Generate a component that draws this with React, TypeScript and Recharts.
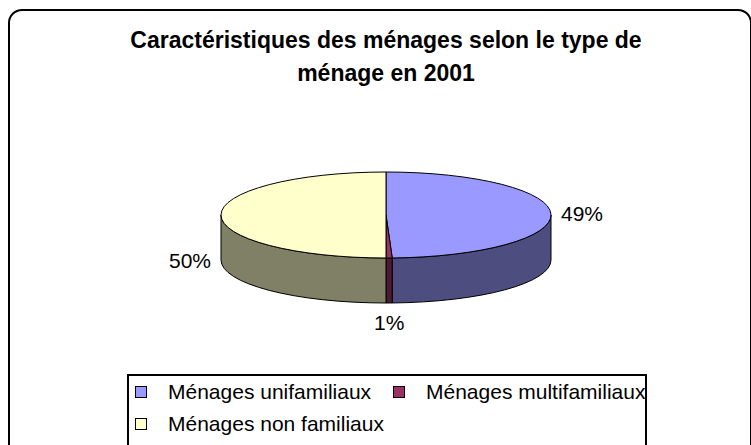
import React from "react";
import { Pie, PieChart, Cell, Legend } from "recharts";

const categories = [
  "Ménages unifamiliaux",
  "Ménages multifamiliaux",
  "Ménages non familiaux",
];
const shares = [49.4, 0.6, 50.0];

const TOP_COLORS = ["#9999FF", "#993366", "#FFFFCC"];
const SIDE_COLORS = ["#4D4D80", "#4D1A33", "#808066"];

const data = categories.map((name, i) => ({ name, value: shares[i] }));

const FONT = '"Liberation Sans", Arial, sans-serif';
const TILT = 43 / 165;
const DEPTH = 45;
const RAD = Math.PI / 180;

const pt = (cx: number, cy: number, rx: number, ry: number, a: number, dy = 0) =>
  `${cx + rx * Math.cos(a * RAD)},${cy - ry * Math.sin(a * RAD) + dy}`;

// elliptical slice with its front wall
const Slice3D = (props: any) => {
  const { cx, cy, outerRadius, startAngle, endAngle, name } = props;
  const idx = categories.indexOf(name);
  const rx = outerRadius;
  const ry = rx * TILT;
  const hi = Math.max(startAngle, endAngle);
  const lo = Math.min(startAngle, endAngle);
  const large = hi - lo > 180 ? 1 : 0;
  const top = `M${cx},${cy} L${pt(cx, cy, rx, ry, hi)} A${rx},${ry} 0 ${large} 1 ${pt(cx, cy, rx, ry, lo)} Z`;

  const sHi = Math.min(hi, 0);
  const sLo = Math.max(lo, -180);
  let side = null;
  if (sHi > sLo) {
    const d = `M${pt(cx, cy, rx, ry, sHi)} A${rx},${ry} 0 0 1 ${pt(cx, cy, rx, ry, sLo)} L${pt(cx, cy, rx, ry, sLo, DEPTH)} A${rx},${ry} 0 0 0 ${pt(cx, cy, rx, ry, sHi, DEPTH)} Z`;
    side = <path d={d} fill={SIDE_COLORS[idx]} stroke="#000" strokeWidth={1} />;
  }
  return (
    <g>
      {side}
      <path d={top} fill={TOP_COLORS[idx]} stroke="#000" strokeWidth={1} />
    </g>
  );
};

const renderLabel = (props: any) => {
  const { cx, cy, midAngle, outerRadius, percent } = props;
  const rx = outerRadius;
  const ry = rx * TILT;
  const c = Math.cos(midAngle * RAD);
  const s = Math.sin(midAngle * RAD);
  const x = cx + (rx + 10) * c;
  const off = s < 0.01 ? DEPTH * Math.max(-s, (1 - c) / 2) : 0;
  const y = cy - (ry + 20) * s + off;
  const anchor = c > 0.3 ? "start" : c < -0.3 ? "end" : "middle";
  return (
    <text x={x} y={y} textAnchor={anchor} dominantBaseline="central" fontFamily={FONT} fontSize={21} fill="#000">
      {`${Math.round(percent * 100)}%`}
    </text>
  );
};

const LegendBox = () => (
  <div
    style={{
      boxSizing: "border-box",
      width: 520,
      height: 80,
      border: "2px solid #000",
      paddingLeft: 6,
      display: "grid",
      gridTemplateColumns: "258px auto",
      gridAutoRows: "32px",
      fontFamily: FONT,
      fontSize: 21,
      background: "#fff",
    }}
  >
    {categories.map((name, i) => (
      <div key={name} style={{ display: "flex", alignItems: "center", whiteSpace: "nowrap", lineHeight: "32px" }}>
        <span
          style={{
            display: "inline-block",
            boxSizing: "border-box",
            width: 12,
            height: 12,
            border: "1px solid #000",
            background: TOP_COLORS[i],
            marginRight: 21,
          }}
        />
        <span>{name}</span>
      </div>
    ))}
  </div>
);

export default function App() {
  return (
    <div style={{ position: "fixed", left: 0, top: 0, width: 751, height: 445, overflow: "hidden", background: "#fff" }}>
      <div
        style={{
          position: "absolute",
          left: 8,
          top: 9,
          width: 744,
          height: 450,
          boxSizing: "border-box",
          border: "2px solid #000",
          borderRadius: 14,
        }}
      />
      <div
        style={{
          position: "absolute",
          left: 0,
          top: 24,
          width: 772,
          textAlign: "center",
          fontFamily: FONT,
          fontWeight: "bold",
          fontSize: 23,
          lineHeight: "33px",
        }}
      >
        Caractéristiques des ménages selon le type de
        <br />
        ménage en 2001
      </div>
      <div style={{ position: "absolute", left: 0, top: 0 }}>
        <PieChart width={751} height={445} margin={{ top: 0, right: 0, bottom: 0, left: 0 }}>
          <Pie
            data={data}
            dataKey="value"
            nameKey="name"
            cx={386}
            cy={215}
            outerRadius={165}
            startAngle={90}
            endAngle={-270}
            stroke="#000"
            shape={Slice3D}
            label={renderLabel}
            labelLine={false}
            isAnimationActive={false}
          >
            {data.map((d, i) => (
              <Cell key={d.name} fill={TOP_COLORS[i]} />
            ))}
          </Pie>
          <Legend
            content={() => <LegendBox />}
            wrapperStyle={{ position: "absolute", left: 127, top: 374, width: 520 }}
          />
        </PieChart>
      </div>
    </div>
  );
}
